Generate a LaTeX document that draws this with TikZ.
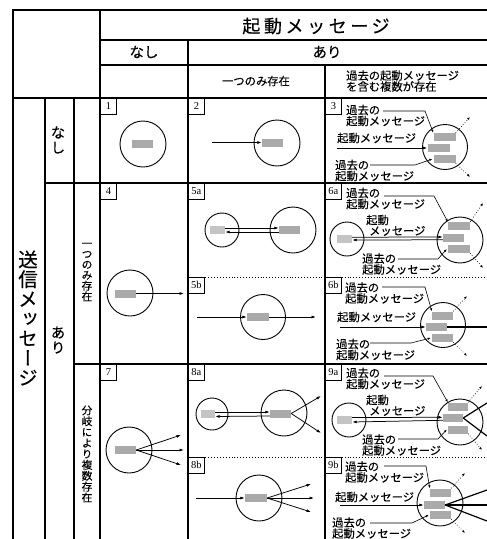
\documentclass[tikz,border=0pt]{standalone}
\usepackage{fontspec}
\setmainfont{Liberation Serif}
\newfontfamily\jp[FakeBold=0.25]{Noto Sans CJK JP}
\newfontfamily\jpv[RawFeature=+vert,FakeBold=0.25]{Noto Sans CJK JP}
\newfontfamily\jpwide[LetterSpace=20,FakeBold=0.25]{Noto Sans CJK JP}
\usetikzlibrary{arrows.meta}
\definecolor{rdark}{RGB}{170,170,170}
\definecolor{rlight}{RGB}{196,196,196}
\begin{document}
\begin{tikzpicture}[x=1pt,y=-1pt,
  tline/.style={line width=1.1pt},
  sepline/.style={line width=0.9pt, dotted},
  circ/.style={circle, draw, line width=0.9pt, inner sep=0pt},
  rd/.style={fill=rdark, inner sep=0pt, minimum height=8pt},
  rl/.style={fill=rlight, inner sep=0pt, minimum height=8pt},
  arr/.style={line width=0.75pt, -{Latex[length=4.5pt,width=3pt]}},
  thickln/.style={line width=1.2pt},
  lead/.style={line width=0.6pt, -{Latex[length=3pt,width=2.4pt]}},
  dotarr/.style={line width=0.7pt, dotted, -{Latex[length=3pt,width=2.4pt]}},
  lbl/.style={font=\jp\fontsize{11.3}{11}\selectfont, inner sep=0pt, anchor=west, align=left},
  numbox/.style={draw, line width=0.8pt, minimum width=16pt, minimum height=16pt, inner sep=0pt, anchor=north west, font=\fontsize{10.5}{10.5}\selectfont},
  hdr/.style={font=\jp\fontsize{14.5}{14.5}\selectfont, inner sep=0pt},
  small/.style={font=\jp\fontsize{11.3}{11}\selectfont, inner sep=0pt},
  vtxt/.style={align=center, inner sep=0pt}]
\useasboundingbox (0,0) rectangle (487,539);
% ---------- table ----------
\draw[tline] (13,539) -- (13,10) -- (487,10);
\draw[tline] (100,10) -- (100,539);
\draw[tline] (100,40) -- (487,40);
\draw[tline] (100,65) -- (487,65);
\draw[tline] (188,40) -- (188,539);
\draw[tline] (325,65) -- (325,539);
\draw[tline] (13,98) -- (487,98);
\draw[tline] (45,98) -- (45,539);
\draw[tline] (74,98) -- (74,539);
\draw[tline] (45,183) -- (487,183);
\draw[tline] (74,364) -- (487,364);
\draw[sepline] (188,277) -- (487,277);
\draw[sepline] (188,457) -- (487,457);
% ---------- headers ----------
\node[font=\jpwide\fontsize{18}{18}\selectfont, inner sep=0pt] (h1) at (316,26) {起動メッセージ};
\node[hdr] (h2) at (144,52) {なし};
\node[hdr] (h3) at (327,52) {あり};
\node[small] (h4) at (256,81) {一つのみ存在};
\node[lbl] (h5) at (346,81) {過去の起動メッセージ\\を含む複数が存在};
\node[vtxt, font=\jpv\fontsize{19.5}{19.7}\selectfont] (v1) at (28,318) {送\\信\\メ\\ッ\\セ\\ー\\ジ};
\node[vtxt, font=\jpv\fontsize{14.5}{15}\selectfont] (v2) at (58,140) {な\\し};
\node[vtxt, font=\jpv\fontsize{14.5}{15}\selectfont] (v3) at (58,340) {あ\\り};
\node[vtxt, font=\jpv\fontsize{10.8}{10.6}\selectfont] (v4) at (87,272) {一\\つ\\の\\み\\存\\在};
\node[vtxt, font=\jpv\fontsize{10.8}{10.9}\selectfont] (v5) at (87,454) {分\\岐\\に\\よ\\り\\複\\数\\存\\在};
% ---------- number boxes ----------
\node[numbox] (n1) at (100,98) {1};
\node[numbox] (n2) at (188,98) {2};
\node[numbox] (n3) at (325,98) {3};
\node[numbox] (n4) at (100,183) {4};
\node[numbox] (n5a) at (188,183) {5a};
\node[numbox] (n5b) at (188,277) {5b};
\node[numbox] (n6a) at (325,183) {6a};
\node[numbox] (n6b) at (325,277) {6b};
\node[numbox] (n7) at (100,364) {7};
\node[numbox] (n8a) at (188,364) {8a};
\node[numbox] (n8b) at (188,457) {8b};
\node[numbox] (n9a) at (325,364) {9a};
\node[numbox] (n9b) at (325,457) {9b};
% ---------- cell 1 ----------
\node[circ, minimum size=46pt] (c1) at (143,144) {};
\node[rd, minimum width=21pt] (r1) at (142.5,143.5) {};
% ---------- cell 2 ----------
\node[circ, minimum size=46pt] (c2) at (277,143) {};
\node[rd, minimum width=21pt] (r2) at (272.5,142.5) {};
\coordinate (s2) at (212,142.5);
\draw[arr] (s2) -- (r2.west);
% ---------- cell 3 ----------
\node[circ, minimum size=45pt] (c3) at (445,147) {};
\node[rd, minimum width=22pt] (r3a) at (444.5,137) {};
\node[rd, minimum width=22pt] (r3b) at (438.5,148) {};
\node[rd, minimum width=22pt] (r3c) at (444.5,159) {};
\coordinate (s3) at (337,148);
\draw[arr] (s3) -- (r3b.west);
\node[lbl] (l3m) at (337,138) {起動メッセージ};
\node[lbl] (l3t) at (346,115.5) {過去の\\起動メッセージ};
\node[lbl] (l3b) at (335,170.5) {過去の\\起動メッセージ};
\coordinate (a3t) at (383,111); \coordinate (b3t) at (425,111);
\draw[lead] (a3t) -- (b3t) -- (r3a.north west);
\coordinate (a3b) at (370,165); \coordinate (b3b) at (415,165);
\draw[lead] (a3b) -- (b3b) -- ([xshift=-1pt]r3c.west);
\coordinate (d3t) at (470,117); \coordinate (d3b) at (470,177);
\draw[dotarr] (r3a.north east) -- (d3t);
\draw[dotarr] (r3c.south east) -- (d3b);
% ---------- cell 4 ----------
\node[circ, minimum size=46pt] (c4) at (130,293) {};
\node[rd, minimum width=21pt] (r4) at (125.5,293.5) {};
\coordinate (e4) at (184,293.5);
\draw[arr] (r4.east) -- (e4);
% ---------- cell 5a ----------
\node[circ, minimum size=34pt] (c5L) at (222,230) {};
\node[rl, minimum width=15pt] (r5L) at (217.5,230) {};
\node[circ, minimum size=46pt] (c5R) at (293,230) {};
\node[rd, minimum width=21pt] (r5R) at (289.5,230) {};
\draw[arr] ([yshift=2pt]r5L.east) -- ([yshift=2pt]r5R.west);
\draw[arr] ([yshift=-2pt]r5R.west) -- ([yshift=-2pt]r5L.east);
% ---------- cell 5b ----------
\node[circ, minimum size=45pt] (c5b) at (263,317) {};
\node[rd, minimum width=22pt] (r5b) at (258,317) {};
\coordinate (s5b) at (197,317); \coordinate (e5b) at (316,317);
\draw[arr] (s5b) -- (r5b.west);
\draw[arr] (r5b.east) -- (e5b);
% ---------- cell 6a ----------
\node[circ, minimum size=34pt] (c6L) at (347,239) {};
\node[rl, minimum width=15pt] (r6L) at (344.5,239) {};
\node[circ, minimum size=46pt] (c6R) at (460,240) {};
\node[rd, minimum width=22pt] (r6a) at (459,226) {};
\node[rd, minimum width=21pt] (r6b) at (453.5,237.5) {};
\node[rd, minimum width=22pt] (r6c) at (459,249) {};
\draw[arr] ([yshift=1.8pt]r6L.east) -- ([yshift=0.5pt]r6b.west);
\draw[arr] ([yshift=-2.3pt]r6b.west) -- ([yshift=-1pt]r6L.east);
\node[lbl] (l6m1) at (366,220) {起動};
\node[lbl] (l6m2) at (369,231) {メッセージ};
\node[lbl] (l6t) at (346,198.5) {過去の\\起動メッセージ};
\node[lbl] (l6b) at (362,264) {過去の\\起動メッセージ};
\coordinate (a6t) at (384,196); \coordinate (b6t) at (434,196);
\draw[lead] (a6t) -- (b6t) -- (r6a.north west);
\coordinate (a6b) at (398,259); \coordinate (b6b) at (438,259);
\draw[lead] (a6b) -- (b6b) -- ([xshift=-1pt]r6c.west);
\coordinate (d6t) at (483,203); \coordinate (d6b) at (483,268);
\draw[dotarr] (r6a.north east) -- (d6t);
\draw[dotarr] (r6c.south east) -- (d6b);
% ---------- cell 6b ----------
\node[circ, minimum size=45pt] (c6b) at (443,325) {};
\node[rd, minimum width=21pt] (r6ba) at (442.5,315.5) {};
\node[rd, minimum width=21pt] (r6bb) at (436.5,327) {};
\node[rd, minimum width=21pt] (r6bc) at (442.5,338) {};
\coordinate (s6b) at (340,327); \coordinate (e6b) at (487,327);
\draw[arr] (s6b) -- (r6bb.west);
\draw[thickln] (r6bb.east) -- (e6b);
\node[lbl] (l6bm) at (337,317) {起動メッセージ};
\node[lbl] (l6bt) at (345,293) {過去の\\起動メッセージ};
\node[lbl] (l6bb) at (336,349.5) {過去の\\起動メッセージ};
\coordinate (a6bt) at (382,287); \coordinate (b6bt) at (425,287);
\draw[lead] (a6bt) -- (b6bt) -- (r6ba.north west);
\coordinate (a6bb) at (370,343); \coordinate (b6bb) at (411,343);
\draw[lead] (a6bb) -- (b6bb) -- ([xshift=-1pt]r6bc.west);
\coordinate (d6bt) at (467,296); \coordinate (d6bb) at (467,356);
\draw[dotarr] (r6ba.north east) -- (d6bt);
\draw[dotarr] (r6bc.south east) -- (d6bb);
% ---------- cell 7 ----------
\node[circ, minimum size=46pt] (c7) at (129,450) {};
\node[rd, minimum width=21pt] (r7) at (125.5,450) {};
\coordinate (e7a) at (181,435); \coordinate (e7b) at (184,450); \coordinate (e7c) at (181,465);
\draw[arr] (r7.east) -- (e7a);
\draw[arr] (r7.east) -- (e7b);
\draw[arr] (r7.east) -- (e7c);
% ---------- cell 8a ----------
\node[circ, minimum size=32pt] (c8L) at (212,414) {};
\node[rl, minimum width=14pt] (r8L) at (208,414) {};
\node[circ, minimum size=46pt] (c8R) at (284,413) {};
\node[rd, minimum width=21pt] (r8R) at (280.5,413.5) {};
\draw[arr] ([yshift=2pt]r8L.east) -- ([yshift=1.5pt]r8R.west);
\draw[arr] ([yshift=-2.5pt]r8R.west) -- ([yshift=-2.5pt]r8L.east);
\coordinate (e8a1) at (321,396); \coordinate (e8a2) at (321,433);
\draw[arr] (r8R.east) -- (e8a1);
\draw[arr] (r8R.east) -- (e8a2);
% ---------- cell 8b ----------
\node[circ, minimum size=46pt] (c8b) at (259,498) {};
\node[rd, minimum width=22pt] (r8b) at (256,498) {};
\coordinate (s8b) at (196,498);
\draw[arr] (s8b) -- (r8b.west);
\coordinate (e8b1) at (311,484); \coordinate (e8b2) at (314,498); \coordinate (e8b3) at (311,512);
\draw[arr] (r8b.east) -- (e8b1);
\draw[arr] (r8b.east) -- (e8b2);
\draw[arr] (r8b.east) -- (e8b3);
% ---------- cell 9a ----------
\node[circ, minimum size=34pt] (c9L) at (349,420) {};
\node[rl, minimum width=15pt] (r9L) at (344.5,420) {};
\node[circ, minimum size=46pt] (c9R) at (460,422) {};
\node[rd, minimum width=20pt] (r9a) at (458,406.5) {};
\node[rd, minimum width=20pt] (r9b) at (453,418) {};
\node[rd, minimum width=20pt] (r9c) at (458,429.5) {};
\draw[arr] ([yshift=2.5pt]r9L.east) -- ([yshift=0.7pt]r9b.west);
\draw[arr] ([yshift=-2.3pt]r9b.west) -- ([yshift=-2pt]r9L.east);
\coordinate (e9a1) at (487,403); \coordinate (e9a2) at (487,436);
\draw[thickln] (r9b.east) -- (e9a1);
\draw[thickln] (r9b.east) -- (e9a2);
\node[lbl] (l9m1) at (366,400) {起動};
\node[lbl] (l9m2) at (369,411) {メッセージ};
\node[lbl] (l9t) at (346,378.5) {過去の\\起動メッセージ};
\node[lbl] (l9b) at (362,445) {過去の\\起動メッセージ};
\coordinate (a9t) at (384,376); \coordinate (b9t) at (433,376);
\draw[lead] (a9t) -- (b9t) -- (r9a.north west);
\coordinate (a9b) at (398,439); \coordinate (b9b) at (438,439);
\draw[lead] (a9b) -- (b9b) -- ([xshift=-1pt]r9c.west);
\coordinate (d9t) at (482,386); \coordinate (d9b) at (482,450);
\draw[dotarr] (r9a.north east) -- (d9t);
\draw[dotarr] (r9c.south east) -- (d9b);
% ---------- cell 9b ----------
\node[circ, minimum size=46pt] (c9b) at (440,503) {};
\node[rd, minimum width=21pt] (r9ba) at (440.5,492.5) {};
\node[rd, minimum width=21pt] (r9bb) at (434.5,505) {};
\node[rd, minimum width=21pt] (r9bc) at (440.5,515) {};
\coordinate (s9b) at (340,505);
\draw[arr] (s9b) -- (r9bb.west);
\coordinate (e9b1) at (487,490); \coordinate (e9b2) at (487,505); \coordinate (e9b3) at (487,521);
\draw[thickln] (r9bb.east) -- (e9b1);
\draw[thickln] (r9bb.east) -- (e9b2);
\draw[thickln] (r9bb.east) -- (e9b3);
\node[lbl] (l9bm) at (335,497) {起動メッセージ};
\node[lbl] (l9bt) at (345,472) {過去の\\起動メッセージ};
\node[lbl] (l9bb) at (332,528) {過去の\\起動メッセージ};
\coordinate (a9bt) at (384,466); \coordinate (b9bt) at (426,466);
\draw[lead] (a9bt) -- (b9bt) -- (r9ba.north west);
\coordinate (a9bb) at (370,523); \coordinate (b9bb) at (412,523);
\draw[lead] (a9bb) -- (b9bb) -- ([xshift=-1pt]r9bc.west);
\coordinate (d9bt) at (465,473); \coordinate (d9bb) at (465,533);
\draw[dotarr] (r9ba.north east) -- (d9bt);
\draw[dotarr] (r9bc.south east) -- (d9bb);
\end{tikzpicture}
\end{document}
